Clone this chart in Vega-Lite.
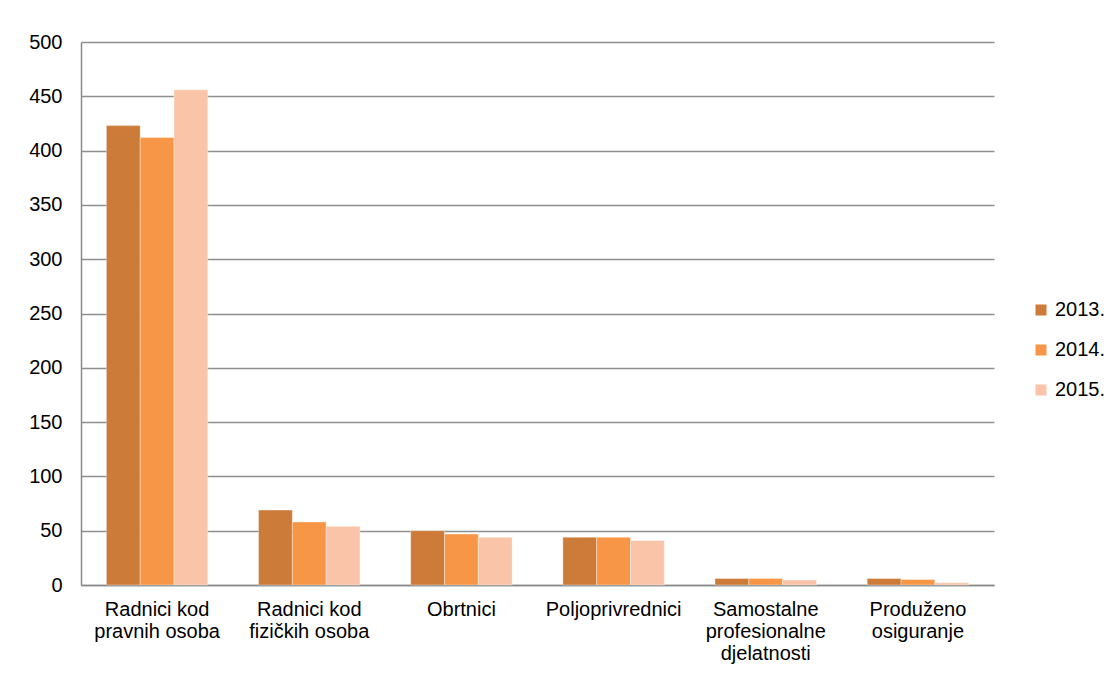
{
  "$schema": "https://vega.github.io/schema/vega-lite/v6.json",
  "width": 913,
  "height": 543,
  "autosize": {"type": "none"},
  "padding": {"left": 81, "top": 42, "right": 124, "bottom": 95},
  "background": "white",
  "data": {
    "values": [
      {"kategorija": "Radnici kod pravnih osoba", "godina": "2013.", "vrijednost": 423},
      {"kategorija": "Radnici kod pravnih osoba", "godina": "2014.", "vrijednost": 412},
      {"kategorija": "Radnici kod pravnih osoba", "godina": "2015.", "vrijednost": 456},
      {"kategorija": "Radnici kod fizičkih osoba", "godina": "2013.", "vrijednost": 69},
      {"kategorija": "Radnici kod fizičkih osoba", "godina": "2014.", "vrijednost": 58},
      {"kategorija": "Radnici kod fizičkih osoba", "godina": "2015.", "vrijednost": 54},
      {"kategorija": "Obrtnici", "godina": "2013.", "vrijednost": 50},
      {"kategorija": "Obrtnici", "godina": "2014.", "vrijednost": 47},
      {"kategorija": "Obrtnici", "godina": "2015.", "vrijednost": 44},
      {"kategorija": "Poljoprivrednici", "godina": "2013.", "vrijednost": 44},
      {"kategorija": "Poljoprivrednici", "godina": "2014.", "vrijednost": 44},
      {"kategorija": "Poljoprivrednici", "godina": "2015.", "vrijednost": 41},
      {"kategorija": "Samostalne profesionalne djelatnosti", "godina": "2013.", "vrijednost": 6},
      {"kategorija": "Samostalne profesionalne djelatnosti", "godina": "2014.", "vrijednost": 6},
      {"kategorija": "Samostalne profesionalne djelatnosti", "godina": "2015.", "vrijednost": 4.5},
      {"kategorija": "Produženo osiguranje", "godina": "2013.", "vrijednost": 6},
      {"kategorija": "Produženo osiguranje", "godina": "2014.", "vrijednost": 5},
      {"kategorija": "Produženo osiguranje", "godina": "2015.", "vrijednost": 2}
    ]
  },
  "mark": {"type": "bar", "stroke": "#ffffff", "strokeWidth": 0.6, "strokeOpacity": 0.6},
  "encoding": {
    "x": {
      "field": "kategorija",
      "type": "nominal",
      "sort": null,
      "scale": {"paddingInner": 0.3333, "paddingOuter": 0.1667},
      "axis": {
        "title": null,
        "labelAngle": 0,
        "labelPadding": 14,
        "labelLineHeight": 22,
        "labelOverlap": false,
        "labelLimit": 300,
        "labelExpr": "datum.label == 'Radnici kod pravnih osoba' ? ['Radnici kod', 'pravnih osoba'] : datum.label == 'Radnici kod fizičkih osoba' ? ['Radnici kod', 'fizičkih osoba'] : datum.label == 'Samostalne profesionalne djelatnosti' ? ['Samostalne', 'profesionalne', 'djelatnosti'] : datum.label == 'Produženo osiguranje' ? ['Produženo', 'osiguranje'] : datum.label",
        "grid": false,
        "ticks": false
      }
    },
    "xOffset": {
      "field": "godina",
      "type": "nominal",
      "sort": null,
      "scale": {"paddingInner": 0, "paddingOuter": 0}
    },
    "y": {
      "field": "vrijednost",
      "type": "quantitative",
      "scale": {"domain": [0, 500], "nice": false},
      "axis": {
        "title": null,
        "values": [0, 50, 100, 150, 200, 250, 300, 350, 400, 450, 500],
        "labelPadding": 19,
        "ticks": false,
        "grid": true
      }
    },
    "color": {
      "field": "godina",
      "type": "nominal",
      "scale": {"domain": ["2013.", "2014.", "2015."], "range": ["#CC7B38", "#F79646", "#FAC4A8"]},
      "legend": {
        "title": null,
        "orient": "none",
        "legendX": 950,
        "legendY": 258,
        "padding": 0,
        "symbolType": "square",
        "symbolSize": 121,
        "symbolStrokeWidth": 0,
        "labelFontSize": 20,
        "labelOffset": 4,
        "rowPadding": 20
      }
    }
  },
  "config": {
    "font": "Liberation Sans",
    "view": {"stroke": null},
    "axis": {
      "labelFont": "Liberation Sans",
      "labelFontSize": 20,
      "labelColor": "#000000",
      "domainColor": "#8a8a8a",
      "domainWidth": 1.5,
      "gridColor": "#8f8f8f",
      "gridWidth": 1.4
    },
    "legend": {
      "labelFont": "Liberation Sans",
      "labelColor": "#000000"
    }
  }
}
